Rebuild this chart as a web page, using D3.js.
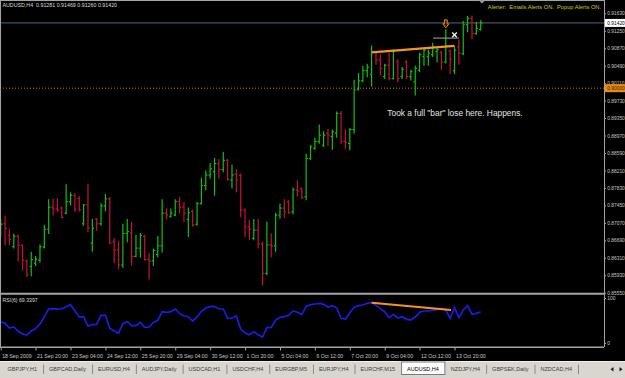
<!DOCTYPE html>
<html>
<head>
<meta charset="utf-8">
<script src="https://cdn.jsdelivr.net/npm/d3@7"></script>
<style>
body { margin: 0; background: #000; overflow: hidden; }
svg { display: block; }
text { font-family: "Liberation Sans", Arial, sans-serif; }
</style>
</head>
<body>
<svg id="chart" width="625" height="378"></svg>
<script>
// AUDUSD H4 bars (bar 0 = leftmost)
const opens = [
    0.8684, 0.8705, 0.8680, 0.8655, 0.8678, 0.8658, 0.8624, 0.8612, 0.8619, 0.8626,
    0.8654, 0.8693, 0.8741, 0.8737, 0.8739, 0.8728, 0.8753, 0.8767, 0.8760, 0.8705,
    0.8746, 0.8663, 0.8715, 0.8705, 0.8744, 0.8759, 0.8666, 0.8648, 0.8615, 0.8684,
    0.8685, 0.8634, 0.8652, 0.8678, 0.8627, 0.8624, 0.8638, 0.8657, 0.8728, 0.8721,
    0.8724, 0.8753, 0.8741, 0.8714, 0.8732, 0.8704, 0.8749, 0.8788, 0.8811, 0.8818,
    0.8836, 0.8823, 0.8843, 0.8800, 0.8813, 0.8811, 0.8735, 0.8698, 0.8673, 0.8691,
    0.8661, 0.8597, 0.8659, 0.8657, 0.8724, 0.8739, 0.8753, 0.8731, 0.8779, 0.8781,
    0.8764, 0.8847, 0.8869, 0.8884, 0.8876, 0.8902, 0.8895, 0.8902, 0.8945, 0.8884,
    0.8880, 0.8910, 0.8997, 0.9016, 0.9038, 0.9030, 0.9079, 0.9062, 0.9025, 0.9050,
    0.9021, 0.9057, 0.9025, 0.9057, 0.9025, 0.9014, 0.9039, 0.9069, 0.9069, 0.9073,
    0.9080, 0.9078, 0.9057, 0.9081, 0.9038, 0.9090, 0.9075, 0.9138, 0.9152, 0.9119,
    0.91281
];
const highs = [
    0.8714, 0.8721, 0.8693, 0.8682, 0.8680, 0.8659, 0.8626, 0.8643, 0.8634, 0.8659,
    0.8702, 0.8757, 0.8759, 0.8759, 0.8741, 0.8790, 0.8772, 0.8771, 0.8764, 0.8747,
    0.8790, 0.8715, 0.8717, 0.8749, 0.8769, 0.8762, 0.8673, 0.8666, 0.8704, 0.8714,
    0.8708, 0.8680, 0.8684, 0.8680, 0.8640, 0.8650, 0.8677, 0.8757, 0.8737, 0.8737,
    0.8757, 0.8762, 0.8751, 0.8739, 0.8735, 0.8751, 0.8804, 0.8820, 0.8836, 0.8847,
    0.8845, 0.8860, 0.8845, 0.8833, 0.8823, 0.8813, 0.8737, 0.8712, 0.8714, 0.8714,
    0.8665, 0.8709, 0.8683, 0.8728, 0.8748, 0.8757, 0.8755, 0.8783, 0.8798, 0.8783,
    0.8856, 0.8875, 0.8891, 0.8920, 0.8905, 0.8910, 0.8909, 0.8948, 0.8950, 0.8909,
    0.8912, 0.9017, 0.9032, 0.9048, 0.9052, 0.9092, 0.9080, 0.9073, 0.9052, 0.9076,
    0.9083, 0.9062, 0.9045, 0.9060, 0.9039, 0.9048, 0.9076, 0.9087, 0.9083, 0.9098,
    0.9087, 0.9080, 0.9127, 0.9083, 0.9090, 0.9105, 0.9145, 0.9156, 0.9157, 0.9143,
    0.91469
];
const lows = [
    0.8678, 0.8659, 0.8659, 0.8652, 0.8624, 0.8604, 0.8590, 0.8592, 0.8614, 0.8622,
    0.8652, 0.8684, 0.8724, 0.8732, 0.8718, 0.8727, 0.8746, 0.8733, 0.8733, 0.8702,
    0.8688, 0.8645, 0.8691, 0.8702, 0.8733, 0.8661, 0.8620, 0.8608, 0.8610, 0.8666,
    0.8615, 0.8633, 0.8632, 0.8626, 0.8585, 0.8614, 0.8633, 0.8643, 0.8716, 0.8719,
    0.8723, 0.8728, 0.8710, 0.8677, 0.8700, 0.8702, 0.8748, 0.8779, 0.8804, 0.8767,
    0.8804, 0.8818, 0.8800, 0.8783, 0.8774, 0.8721, 0.8677, 0.8671, 0.8670, 0.8652,
    0.8572, 0.8594, 0.8633, 0.8645, 0.8717, 0.8719, 0.8728, 0.8726, 0.8766, 0.8760,
    0.8757, 0.8845, 0.8867, 0.8880, 0.8873, 0.8876, 0.8867, 0.8893, 0.8880, 0.8869,
    0.8866, 0.8902, 0.8996, 0.9014, 0.9025, 0.9004, 0.9052, 0.9029, 0.9021, 0.9018,
    0.9020, 0.9014, 0.9021, 0.9021, 0.9018, 0.8985, 0.9036, 0.9050, 0.9050, 0.9069,
    0.9057, 0.9041, 0.9055, 0.9032, 0.9032, 0.9052, 0.9073, 0.9123, 0.9108, 0.9118,
    0.91260
];
const closes = [
    0.8704, 0.8695, 0.8671, 0.8678, 0.8658, 0.8626, 0.8594, 0.8627, 0.8628, 0.8655,
    0.8693, 0.8741, 0.8737, 0.8735, 0.8719, 0.8753, 0.8767, 0.8735, 0.8735, 0.8746,
    0.8696, 0.8695, 0.8705, 0.8744, 0.8759, 0.8664, 0.8648, 0.8615, 0.8684, 0.8688,
    0.8634, 0.8652, 0.8680, 0.8627, 0.8624, 0.8647, 0.8657, 0.8728, 0.8724, 0.8728,
    0.8753, 0.8741, 0.8728, 0.8729, 0.8702, 0.8749, 0.8788, 0.8811, 0.8825, 0.8836,
    0.8823, 0.8843, 0.8802, 0.8811, 0.8800, 0.8735, 0.8698, 0.8693, 0.8691, 0.8661,
    0.8597, 0.8659, 0.8657, 0.8724, 0.8739, 0.8731, 0.8729, 0.8779, 0.8776, 0.8762,
    0.8847, 0.8872, 0.8884, 0.8898, 0.8898, 0.8898, 0.8905, 0.8945, 0.8884, 0.8882,
    0.8910, 0.8996, 0.9016, 0.9038, 0.9046, 0.9079, 0.9061, 0.9043, 0.9050, 0.9021,
    0.9080, 0.9021, 0.9041, 0.9025, 0.9036, 0.9043, 0.9073, 0.9083, 0.9076, 0.9090,
    0.9084, 0.9057, 0.9092, 0.9063, 0.9083, 0.9076, 0.9138, 0.9152, 0.9119, 0.9130,
    0.91420
];
// RSI(6)
const rsiValues = [
    46.7, 43.7, 33.3, 35.6, 25.9, 20.0, 17.8, 26.7, 31.9, 42.2,
    58.5, 75.6, 76.3, 75.6, 75.6, 80.8, 85.2, 71.9, 57.8, 58.5,
    37.8, 40.8, 41.5, 61.5, 61.5, 32.6, 26.7, 21.5, 43.7, 47.4,
    38.5, 38.5, 45.9, 34.8, 35.6, 45.9, 50.4, 69.6, 68.2, 69.6,
    75.6, 65.2, 60.0, 58.5, 48.9, 57.8, 70.4, 77.8, 80.8, 81.5,
    75.6, 75.6, 54.8, 55.6, 60.0, 30.4, 23.0, 18.5, 25.2, 18.5,
    13.3, 34.1, 34.8, 51.1, 57.1, 58.5, 61.5, 71.1, 68.2, 63.7,
    81.5, 85.2, 86.7, 88.2, 85.9, 80.0, 83.0, 77.8, 54.8, 53.3,
    67.4, 79.3, 83.0, 84.5, 88.2, 90.4, 83.7, 76.3, 69.6, 56.3,
    63.7, 55.6, 58.5, 52.6, 51.1, 57.8, 68.2, 71.1, 71.1, 72.6,
    74.8, 75.6, 73.3, 54.8, 78.5, 56.3, 73.3, 83.0, 63.7, 65.9,
    69.3397
];

const priceTicks = [0.91630, 0.91250, 0.90870, 0.90490, 0.90110, 0.89730, 0.89350, 0.88970,
    0.88590, 0.88210, 0.87830, 0.87450, 0.87070, 0.86690, 0.86310, 0.85930, 0.85550];
const rsiTicks = [0, 100];
const dateBars = [0, 8, 16, 24, 32, 40, 48, 56, 64, 72, 80, 88, 96, 104];
const dateLabels = ["18 Sep 2009", "21 Sep 20:00", "23 Sep 04:00", "24 Sep 12:00", "25 Sep 20:00",
    "29 Sep 04:00", "30 Sep 12:00", "1 Oct 20:00", "5 Oct 04:00", "6 Oct 12:00", "7 Oct 20:00",
    "9 Oct 04:00", "12 Oct 12:00", "13 Oct 20:00"];
const tabNames = ["GBPJPY,H1", "GBPCAD,Daily", "EURUSD,H4", "AUDJPY,Daily", "USDCAD,H1", "USDCHF,H4",
    "EURGBP,M5", "EURJPY,H4", "EURCHF,M15", "AUDUSD,H4", "NZDJPY,H4", "GBPSEK,Daily", "NZDCAD,H4"];
const activeTab = "AUDUSD,H4";

const alertLevel = 0.90000;
const priceTrend = [[85, 0.9078], [104, 0.9092]];
const rsiTrend = [[85, 89.6], [103.2, 73.3]];
const arrowMark = [102, 0.9140];
const crossMark = [104, 0.9116];
const orderLine = [[99.1, 0.9109], [105, 0.9109]];
const note = "Took a full \"bar\" lose here. Happens.";
const noteAt = [88.6, 0.8940];

const plotRight = 604;
const mainBottom = 293;
const rsiTop = 295, rsiBottom = 347;
const tabTop = 361;
const upColor = "#10c010", downColor = "#c8103e";
const gridGrey = "#a4a4a4", labelGrey = "#c8c8c8";

const svg = d3.select("#chart");
const barX = d3.scaleLinear().domain([0, 110]).range([0.7, 480.7]);
const priceY = d3.scaleLinear().domain([0.85543, 0.91919]).range([mainBottom, 0]);
const rsiY = d3.scaleLinear().domain([0, 100]).range([343, 298]);
const fmt5 = d3.format(".5f");

let bars = opens.map((o, i) => ({ i: i, open: o, high: highs[i], low: lows[i], close: closes[i] }));

svg.append("rect").attr("width", 625).attr("height", 378).attr("fill", "#000");

svg.append("clipPath").attr("id", "mainclip")
    .append("rect").attr("x", 0).attr("y", 0).attr("width", plotRight).attr("height", mainBottom);
svg.append("clipPath").attr("id", "rsiclip")
    .append("rect").attr("x", 0).attr("y", rsiTop).attr("width", plotRight).attr("height", rsiBottom - rsiTop);

let main = svg.append("g").attr("clip-path", "url(#mainclip)");
let sub = svg.append("g").attr("clip-path", "url(#rsiclip)");

makeLevels(main);
makeBars(main, bars);
makeMarks(main);
makeRsi(sub);
makeFrame(svg);
makeAxes(svg);
makeLabels(svg);
makeTabs(svg);

function makeLevels(g) {
    let last = bars[bars.length - 1];
    g.append("line")
        .attr("x1", 0).attr("x2", plotRight)
        .attr("y1", priceY(last.close)).attr("y2", priceY(last.close))
        .attr("stroke", "#56687a").attr("stroke-width", 1);
    g.append("line")
        .attr("x1", 0).attr("x2", plotRight)
        .attr("y1", priceY(alertLevel)).attr("y2", priceY(alertLevel))
        .attr("stroke", "#c8741e").attr("stroke-width", 1)
        .attr("stroke-dasharray", "1,2");
}

function makeBars(g, data) {
    let sel = g.selectAll(".bar").data(data).enter()
        .append("g")
        .attr("class", "bar")
        .attr("stroke", d => d.close >= d.open ? upColor : downColor)
        .attr("stroke-width", 1.2);
    sel.append("line")
        .attr("x1", d => barX(d.i)).attr("x2", d => barX(d.i))
        .attr("y1", d => priceY(d.high) - 0.5).attr("y2", d => priceY(d.low) + 0.5);
    sel.append("line")
        .attr("x1", d => barX(d.i) - 1.7).attr("x2", d => barX(d.i))
        .attr("y1", d => priceY(d.open)).attr("y2", d => priceY(d.open));
    sel.append("line")
        .attr("x1", d => barX(d.i)).attr("x2", d => barX(d.i) + 1.7)
        .attr("y1", d => priceY(d.close)).attr("y2", d => priceY(d.close));
}

function makeMarks(g) {
    g.append("line")
        .attr("x1", barX(priceTrend[0][0])).attr("y1", priceY(priceTrend[0][1]))
        .attr("x2", barX(priceTrend[1][0])).attr("y2", priceY(priceTrend[1][1]))
        .attr("stroke", "#f7941d").attr("stroke-width", 2.2);

    g.append("line")
        .attr("x1", barX(orderLine[0][0])).attr("y1", priceY(orderLine[0][1]))
        .attr("x2", barX(orderLine[1][0])).attr("y2", priceY(orderLine[1][1]))
        .attr("stroke", "#a8a8a8").attr("stroke-width", 1);

    // down arrow icon
    let cx = barX(arrowMark[0]), ty = priceY(arrowMark[1]) - 4;
    g.append("path")
        .attr("d", `M${cx - 1.4},${ty} L${cx + 1.4},${ty} L${cx + 1.4},${ty + 4} L${cx + 3},${ty + 4}
                    L${cx},${ty + 8} L${cx - 3},${ty + 4} L${cx - 1.4},${ty + 4} Z`)
        .attr("fill", "#3a1a00").attr("stroke", "#e8891e").attr("stroke-width", 1);

    let xx = barX(crossMark[0]), xy = priceY(crossMark[1]);
    g.append("path")
        .attr("d", `M${xx - 2.3},${xy - 2.3} L${xx + 2.3},${xy + 2.3} M${xx + 2.3},${xy - 2.3} L${xx - 2.3},${xy + 2.3}`)
        .attr("stroke", "#f2f2f2").attr("stroke-width", 1.4);

    g.append("text")
        .attr("x", barX(noteAt[0])).attr("y", priceY(noteAt[1]))
        .attr("font-size", 8.4).attr("fill", "#e4e4e4")
        .text(note);
}

function makeRsi(g) {
    let line = d3.line().x((d, i) => barX(i)).y(d => rsiY(d));
    g.append("path")
        .datum(rsiValues)
        .attr("d", line)
        .attr("fill", "none")
        .attr("stroke", "#1c1ce4")
        .attr("stroke-width", 1.7);
    g.append("line")
        .attr("x1", barX(rsiTrend[0][0])).attr("y1", rsiY(rsiTrend[0][1]))
        .attr("x2", barX(rsiTrend[1][0])).attr("y2", rsiY(rsiTrend[1][1]))
        .attr("stroke", "#f7941d").attr("stroke-width", 2);
}

function makeFrame(g) {
    let lines = [
        [0.5, 0, 0.5, rsiBottom, 1],
        [0, 0.5, plotRight, 0.5, 1],
        [plotRight + 0.5, 0, plotRight + 0.5, rsiBottom, 1],
        [0, mainBottom + 0.8, plotRight, mainBottom + 0.8, 2],
        [0, rsiBottom + 0.3, plotRight, rsiBottom + 0.3, 1.5]
    ];
    g.selectAll(".frame").data(lines).enter()
        .append("line")
        .attr("class", "frame")
        .attr("x1", d => d[0]).attr("y1", d => d[1])
        .attr("x2", d => d[2]).attr("y2", d => d[3])
        .attr("stroke", gridGrey)
        .attr("stroke-width", d => d[4]);

    // chart shift marker
    g.append("path")
        .attr("d", "M478.5,0 L485.5,0 L482,3.5 Z")
        .attr("fill", "#9a9a9a");
}

function makeAxes(g) {
    let priceAxis = d3.axisRight(priceY)
        .tickValues(priceTicks).tickFormat(fmt5)
        .tickSize(1.5).tickSizeOuter(0).tickPadding(1.3);
    let rsiAxis = d3.axisRight(rsiY)
        .tickValues(rsiTicks).tickFormat(d3.format("d"))
        .tickSize(1.5).tickSizeOuter(0).tickPadding(1.3);
    let dateAxis = d3.axisBottom(barX)
        .tickValues(dateBars).tickFormat((d, i) => dateLabels[i])
        .tickSize(3).tickSizeOuter(0).tickPadding(3.6);

    let axes = [
        { axis: priceAxis, at: `translate(${plotRight + 0.5},0)` },
        { axis: rsiAxis, at: `translate(${plotRight + 0.5},0)` },
        { axis: dateAxis, at: `translate(0,${rsiBottom + 0.5})` }
    ];
    g.selectAll(".axis").data(axes).enter()
        .append("g")
        .attr("class", "axis")
        .attr("transform", d => d.at)
        .each(function (d) { d3.select(this).call(d.axis); });

    g.selectAll(".axis .domain").remove();
    g.selectAll(".axis line").attr("stroke", gridGrey);
    g.selectAll(".axis text")
        .attr("fill", labelGrey)
        .style("font-family", "'Liberation Sans', Arial, sans-serif")
        .style("font-size", "4.85px");
    g.selectAll(".axis").filter((d, i) => i === 2).selectAll("text")
        .attr("text-anchor", "start").attr("x", 1)
        .style("font-size", "5.2px");

    // current price and alert level boxes
    let last = bars[bars.length - 1];
    let boxes = [
        { v: last.close, bg: "#ffffff", fg: "#000000" },
        { v: alertLevel, bg: "#eb8a12", fg: "#3a1c00" }
    ];
    let bx = g.selectAll(".pbox").data(boxes).enter().append("g").attr("class", "pbox");
    bx.append("rect")
        .attr("x", plotRight + 1).attr("y", d => priceY(d.v) - 4)
        .attr("width", 625 - plotRight).attr("height", 8)
        .attr("fill", d => d.bg);
    bx.append("text")
        .attr("x", plotRight + 3.3).attr("y", d => priceY(d.v))
        .attr("dy", "0.34em")
        .attr("font-size", 4.85)
        .attr("fill", d => d.fg)
        .text(d => fmt5(d.v));
}

function makeLabels(g) {
    let last = bars[bars.length - 1];
    g.append("text")
        .attr("x", 2.5).attr("y", 7.2)
        .attr("font-size", 5.3).attr("fill", "#dadada")
        .attr("xml:space", "preserve")
        .text(`AUDUSD,H4  ${fmt5(last.open)} ${fmt5(last.high)} ${fmt5(last.low)} ${fmt5(last.close)}`);
    g.append("text")
        .attr("x", 601).attr("y", 9.2)
        .attr("text-anchor", "end")
        .attr("font-size", 5.7).attr("fill", "#cdcd1c")
        .attr("xml:space", "preserve")
        .text("Alerter:  Emails Alerts ON.  Popup Alerts ON.");
    g.append("text")
        .attr("x", 2.5).attr("y", 301.5)
        .attr("font-size", 5.2).attr("fill", "#dadada")
        .text("RSI(6) " + d3.format(".4f")(rsiValues[rsiValues.length - 1]));
}

function makeTabs(g) {
    g.append("rect")
        .attr("x", 0).attr("y", tabTop).attr("width", 625).attr("height", 378 - tabTop)
        .attr("fill", "#d9d6d0");
    g.append("line")
        .attr("x1", 0).attr("x2", 625).attr("y1", tabTop + 0.5).attr("y2", tabTop + 0.5)
        .attr("stroke", "#f2f1ee");

    let tabs = g.append("g");
    let cur = 1.5;
    let pad = 6.0;
    tabNames.forEach(function (name) {
        let t = tabs.append("text")
            .attr("x", cur + pad).attr("y", 371.2)
            .attr("font-size", 5.5)
            .attr("fill", name === activeTab ? "#000" : "#3c3c3c")
            .text(name);
        let w = t.node().getComputedTextLength();
        let end = cur + pad + w + pad;
        if (name === activeTab) {
            tabs.insert("rect", "text")
                .attr("x", cur + 0.5).attr("y", tabTop + 1)
                .attr("width", end - cur - 0.5).attr("height", 12.5)
                .attr("fill", "#ffffff").attr("stroke", "#7a7a7a").attr("stroke-width", 1);
        } else {
            tabs.append("line")
                .attr("x1", end + 0.5).attr("x2", end + 0.5)
                .attr("y1", 364.5).attr("y2", 374)
                .attr("stroke", "#8a8a8a");
        }
        cur = end;
    });

    let arrows = [
        "M610.5,369.2 L613.5,367 L613.5,371.4 Z",
        "M622.5,369.2 L619.5,367 L619.5,371.4 Z"
    ];
    g.selectAll(".tabarrow").data(arrows).enter()
        .append("path")
        .attr("class", "tabarrow")
        .attr("d", d => d)
        .attr("fill", "#1c1c1c");
}
</script>
</body>
</html>
